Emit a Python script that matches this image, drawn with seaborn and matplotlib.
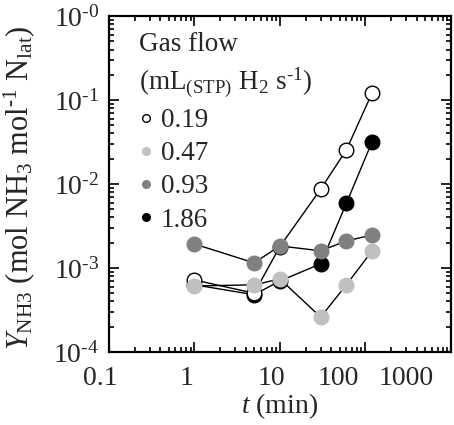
import numpy as np
import pandas as pd
import matplotlib
matplotlib.use('Agg')
import matplotlib.pyplot as plt
import matplotlib.transforms as mtransforms
from matplotlib.lines import Line2D
from matplotlib.ticker import LogLocator, NullFormatter
import seaborn as sns

sns.set_style('ticks')
plt.rcParams['font.family'] = ['Liberation Serif', 'DejaVu Serif']
plt.rcParams['mathtext.fontset'] = 'custom'
plt.rcParams['mathtext.rm'] = 'Liberation Serif'
plt.rcParams['mathtext.it'] = 'Liberation Serif:italic'
plt.rcParams['mathtext.default'] = 'regular'

# time on stream (min)
time_min = [1, 5, 10, 30, 60, 120]

# ammonia yield, one list per gas flow (mL(STP) H2 s-1)
flow_labels = ['0.19', '0.47', '0.93', '1.86']
y_019 = [7.2e-4, 5.0e-4, 1.8e-3, 8.7e-3, 2.55e-2, 1.22e-1]
y_047 = [6.1e-4, 6.3e-4, 7.4e-4, 2.6e-4, 6.3e-4, 1.6e-3]
y_093 = [1.93e-3, 1.15e-3, 1.83e-3, 1.6e-3, 2.1e-3, 2.47e-3]
y_186 = [6.3e-4, 4.8e-4, 7.0e-4, 1.12e-3, 5.9e-3, 3.2e-2]

face_colors = ['white', '#c0c0c0', '#808080', 'black']
edge_colors = ['black', '#c0c0c0', '#808080', 'black']
zorders = [3, 5, 4, 2]

x_ticks = [0.1, 1, 10, 100, 1000]
x_tick_labels = ['0.1', '1', '10', '100', '1000']
y_ticks = [1e-4, 1e-3, 1e-2, 1e-1, 1e0]
y_tick_labels = ['10$^{\\text{-}4}$', '10$^{\\text{-}3}$', '10$^{\\text{-}2}$',
                 '10$^{\\text{-}1}$', '10$^{\\text{-}0}$']

fig = plt.figure(figsize=(4.54, 4.25), dpi=100)
ax = fig.add_axes([0.240, 0.172, 0.753, 0.790])

series = [y_019, y_047, y_093, y_186]
for lab, ys, fc, ec, z in zip(flow_labels, series, face_colors, edge_colors, zorders):
    df = pd.DataFrame({'t': time_min, 'y': ys})
    sns.lineplot(data=df, x='t', y='y', ax=ax, color='black', lw=1.0,
                 marker='o', markersize=10.5, markerfacecolor=fc,
                 markeredgecolor=ec, markeredgewidth=1.0, zorder=z,
                 estimator=None, sort=False)

ax.set_xscale('log')
ax.set_yscale('log')
ax.set_xlim(0.1, 1000)
ax.set_ylim(1e-4, 1e0)
ax.set_xticks(x_ticks, labels=x_tick_labels)
ax.set_yticks(y_ticks, labels=y_tick_labels)
for axis in (ax.xaxis, ax.yaxis):
    axis.set_minor_locator(LogLocator(base=10, subs=np.arange(2, 10), numticks=20))
    axis.set_minor_formatter(NullFormatter())

ax.tick_params(which='both', direction='in', top=True, right=True,
               width=1.2, color='black')
ax.tick_params(which='major', length=7, labelsize=20)
ax.tick_params(axis='x', which='major', pad=10)
ax.tick_params(axis='y', which='major', pad=7)
ax.tick_params(which='minor', length=3.5)
for s in ax.spines.values():
    s.set_linewidth(1.6)
    s.set_color('black')

# x tick labels sit a little left of their ticks, as in the original figure
x_shift_px = [-9, -8, -8, -27, -45]
for lbl, dx in zip(ax.get_xticklabels(), x_shift_px):
    lbl.set_transform(lbl.get_transform() +
                      mtransforms.ScaledTranslation(dx / 100, 0, fig.dpi_scale_trans))

ax.set_xlabel('$\\mathit{t}$ (min)', fontsize=20, labelpad=0)
ax.set_ylabel('$\\mathit{Y}_{NH3}$ (mol NH$_3$ mol$^{\\text{-}1}$ N$_{lat}$)',
              fontsize=22)
ax.yaxis.set_label_coords(-0.21, 0.49)

handles = [Line2D([], [], ls='none', marker='o', markersize=5.5,
                  markerfacecolor=fc, markeredgecolor=ec, markeredgewidth=1.0)
           for fc, ec in zip(face_colors, edge_colors)]
leg = ax.legend(handles, flow_labels,
                title='Gas flow\n(mL$_{(STP)}$ H$_2$ s$^{\\text{-}1}$)',
                loc='upper left', frameon=False, fontsize=19.5,
                title_fontsize=19.5, alignment='left', handlelength=0.5,
                handletextpad=0.3, labelspacing=0.3, borderaxespad=0.2,
                bbox_to_anchor=(0.04, 1.0))
leg.get_title().set_linespacing(1.35)

fig.savefig('out.png', dpi=100)
